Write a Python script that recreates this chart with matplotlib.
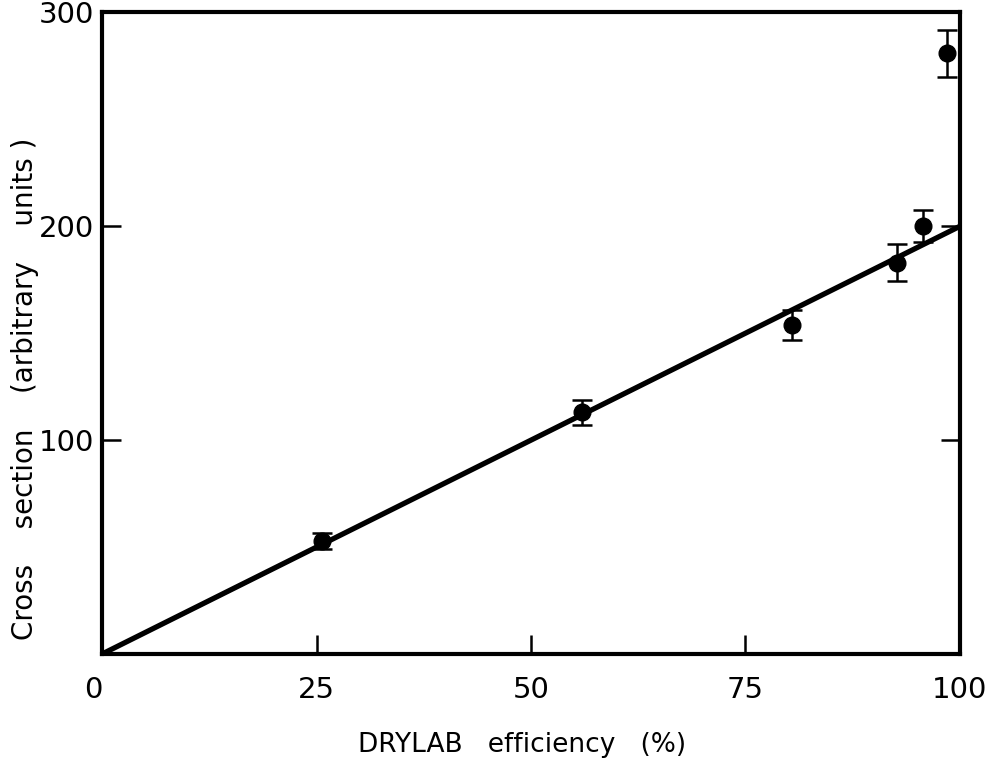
import matplotlib
matplotlib.use("Agg")
import matplotlib.pyplot as plt

# measured points: efficiency (%), cross section, error half-width
efficiency = [25.6, 56.0, 80.4, 92.7, 95.7, 98.5]
cross_section = [53, 113, 154, 183, 200, 281]
errors = [3.7, 5.8, 7.0, 8.5, 7.5, 11.0]

# straight line through the origin
fit_x = [0, 100]
fit_y = [0, 200]

xticks = [0, 25, 50, 75, 100]
yticks = [100, 200, 300]

plt.rcParams["font.family"] = ["DejaVu Sans"]

fig = plt.figure(figsize=(9.86, 7.62), dpi=100)
ax = fig.add_axes([0.1035, 0.1417, 0.870, 0.842])

ax.plot(fit_x, fit_y, color="black", lw=3.8, solid_capstyle="butt", zorder=2)
ax.errorbar(efficiency, cross_section, yerr=errors, fmt="o", color="black",
            ms=12, elinewidth=1.8, capsize=7, capthick=1.8, zorder=3)

ax.set_xlim(0, 100)
ax.set_ylim(0, 300)

ax.set_xticks(xticks)
ax.set_xticklabels([str(t) for t in xticks])
ax.set_yticks(yticks)
ax.set_yticklabels([str(t) for t in yticks])
ax.tick_params(axis="both", direction="in", length=14, width=1.8,
               labelsize=21, right=True, top=False)
ax.tick_params(axis="x", pad=16)
ax.tick_params(axis="y", pad=6)
# the single origin label sits just left of the corner
ax.get_xticklabels()[0].set_horizontalalignment("right")

for side in ax.spines.values():
    side.set_linewidth(3.0)

ax.set_xlabel("DRYLAB   efficiency   (%)", fontsize=19, va="center")
ax.xaxis.set_label_coords(0.49, -0.142)
ax.set_ylabel("Cross    section    (arbitrary    units )", fontsize=20, va="center")
ax.yaxis.set_label_coords(-0.09, 0.414)

fig.savefig("out.png", dpi=100)
